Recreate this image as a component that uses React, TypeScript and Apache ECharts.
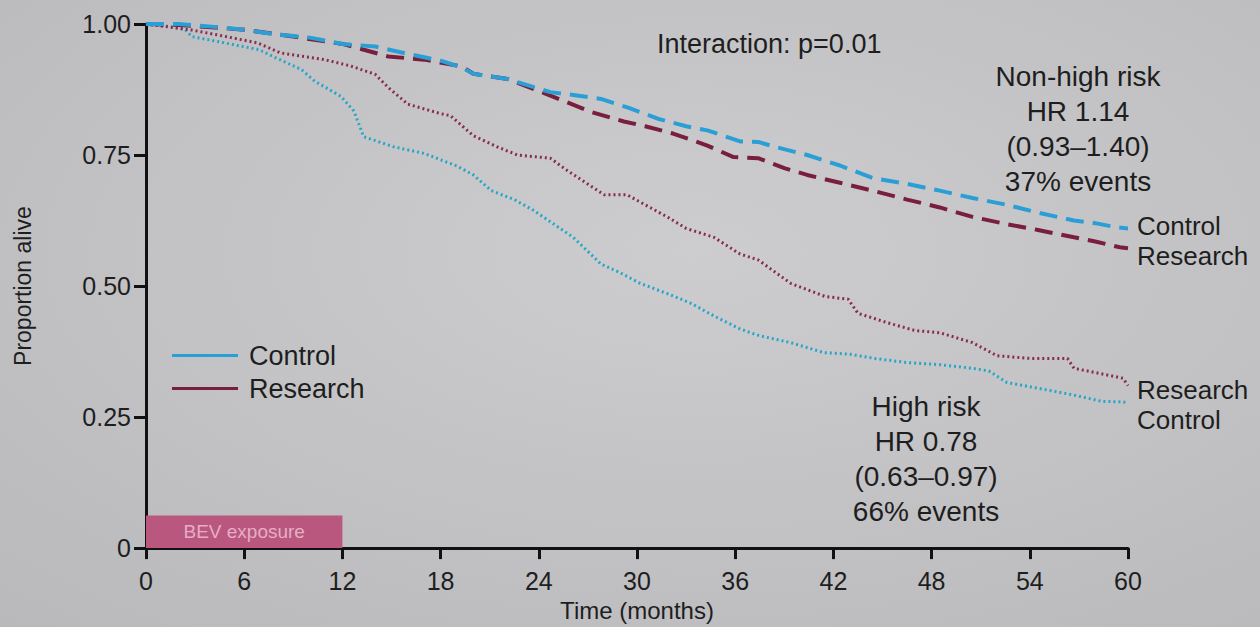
import React, { useEffect, useRef } from "react";
import * as echarts from "echarts";

// Kaplan-Meier curves: [month, proportion alive]
const nonHighControl: [number, number][] = [
  [0, 1.0], [2, 1.0], [4, 0.995], [6, 0.989], [8, 0.98], [10, 0.974], [12, 0.962], [14, 0.957],
  [16, 0.943], [18, 0.93], [19.3, 0.917], [20, 0.905], [22.1, 0.895], [24.7, 0.87], [26, 0.865],
  [27.8, 0.857], [29.5, 0.84], [31.3, 0.819], [33, 0.805], [34.3, 0.797], [36.3, 0.776], [37.4, 0.775],
  [38.5, 0.765], [40.4, 0.75], [42.4, 0.73], [44.4, 0.706], [46.5, 0.695], [48.5, 0.682], [50.5, 0.668],
  [52.6, 0.655], [54.5, 0.64], [56.7, 0.625], [58, 0.62], [59.3, 0.612], [60, 0.61],
];
const nonHighResearch: [number, number][] = [
  [0, 1.0], [2, 0.998], [4, 0.994], [6, 0.989], [9, 0.976], [12, 0.962], [14.8, 0.938], [17, 0.932],
  [19.3, 0.919], [20, 0.905], [22.1, 0.895], [24.9, 0.861], [27.2, 0.832], [29.2, 0.814], [30.5, 0.805],
  [32.2, 0.791], [34.3, 0.768], [35.9, 0.746], [37.4, 0.744], [39, 0.725], [40.4, 0.712], [42.4, 0.697],
  [44.4, 0.682], [46.5, 0.665], [48.5, 0.65], [50.5, 0.632], [52.6, 0.618], [54.5, 0.607], [56.7, 0.593],
  [58, 0.585], [59.5, 0.574], [60, 0.572],
];
const highControl: [number, number][] = [
  [0, 1.0], [1.5, 0.995], [2.4, 0.989], [2.8, 0.976], [4.8, 0.964], [6.9, 0.951], [7.9, 0.936],
  [9.5, 0.913], [10.3, 0.891], [11.9, 0.862], [12.7, 0.834], [13.3, 0.785], [15.1, 0.766], [17, 0.753],
  [19, 0.729], [20, 0.712], [21.1, 0.682], [22.5, 0.665], [23.7, 0.644], [26.1, 0.593], [27.8, 0.542],
  [29, 0.525], [30.2, 0.505], [31.9, 0.485], [33.3, 0.467], [34.7, 0.443], [36.3, 0.418], [37.5, 0.405],
  [39.4, 0.392], [41.4, 0.373], [43, 0.37], [44.5, 0.362], [46.5, 0.354], [48.5, 0.35], [50.5, 0.343],
  [51.5, 0.338], [52.6, 0.316], [54.5, 0.305], [56.7, 0.292], [58.4, 0.28], [59.7, 0.279], [60, 0.277],
];
const highResearch: [number, number][] = [
  [0, 1.0], [2.7, 0.989], [4.4, 0.979], [6.8, 0.964], [8.2, 0.945], [10.9, 0.932], [12.5, 0.92],
  [14, 0.904], [14.8, 0.879], [16, 0.847], [18, 0.829], [18.6, 0.825], [20, 0.787], [21.5, 0.765],
  [22.7, 0.75], [24.7, 0.744], [25.8, 0.719], [28, 0.674], [29.4, 0.674], [30.5, 0.655], [31.9, 0.631],
  [33, 0.61], [34.7, 0.593], [36.3, 0.561], [37.4, 0.55], [39.4, 0.505], [41.5, 0.48], [42.9, 0.475],
  [43.5, 0.448], [45.3, 0.43], [47, 0.415], [48.5, 0.411], [50.5, 0.392], [52, 0.367], [54, 0.362],
  [56.3, 0.362], [56.7, 0.343], [58, 0.335], [59.7, 0.324], [60, 0.31],
];

const legendNames = ["Control", "Research"];
const xTicks = { min: 0, max: 60, step: 6 };
const yTicks = { min: 0, max: 1, step: 0.25 };
const bevExposure = { from: 0, to: 12, label: "BEV exposure" };
const interactionText = "Interaction: p=0.01";
const nonHighText = ["Non-high risk", "HR 1.14", "(0.93–1.40)", "37% events"];
const highText = ["High risk", "HR 0.78", "(0.63–0.97)", "66% events"];

const FONT = "'Liberation Sans', Arial, Helvetica, sans-serif";
const TXT = "#1e1e1e";
const BLUE = "#2a9fd6";
const BLUE_DOT = "#25a6c9";
const MAROON = "#7a1e3e";
const MAROON_DOT = "#8a2c4f";

export default function App() {
  const ref = useRef<HTMLDivElement>(null);
  useEffect(() => {
    if (!ref.current) return;
    const chart = echarts.init(ref.current, null, { renderer: "svg" });
    const endLabel = (text: string, dy: number) => ({
      show: true,
      formatter: text,
      distance: 9,
      offset: [0, dy],
      fontSize: 26,
      fontFamily: FONT,
      color: TXT,
    });
    chart.setOption({
      animation: false,
      backgroundColor: {
        type: "radial",
        x: 0.55,
        y: 0.4,
        r: 0.85,
        colorStops: [
          { offset: 0, color: "#cdcdcf" },
          { offset: 1, color: "#b8b8bb" },
        ],
      },
      grid: { left: 146, right: 132, top: 24, bottom: 72 },
      legend: {
        data: legendNames,
        orient: "vertical",
        left: 172,
        top: 342,
        padding: 0,
        itemGap: 6,
        icon: "rect",
        itemWidth: 66,
        itemHeight: 3,
        textStyle: { fontSize: 27, fontFamily: FONT, color: TXT, padding: [0, 0, 0, 6] },
      },
      xAxis: {
        type: "value",
        min: xTicks.min,
        max: xTicks.max,
        interval: xTicks.step,
        name: "Time (months)",
        nameLocation: "middle",
        nameGap: 40,
        nameTextStyle: { fontSize: 24, fontFamily: FONT, color: TXT },
        axisLine: { lineStyle: { color: "#111", width: 3 } },
        axisTick: { length: 11, lineStyle: { color: "#111", width: 3 } },
        axisLabel: { fontSize: 25, fontFamily: FONT, color: TXT, margin: 20 },
        splitLine: { show: false },
      },
      yAxis: {
        type: "value",
        min: yTicks.min,
        max: yTicks.max,
        interval: yTicks.step,
        name: "Proportion alive",
        nameLocation: "middle",
        nameGap: 112,
        nameTextStyle: { fontSize: 23, fontFamily: FONT, color: TXT },
        axisLine: { show: true, lineStyle: { color: "#111", width: 3 } },
        axisTick: { show: true, length: 12, lineStyle: { color: "#111", width: 3 } },
        axisLabel: {
          fontSize: 25,
          fontFamily: FONT,
          color: TXT,
          margin: 15,
          formatter: (v: number) => (v === 0 ? "0" : v.toFixed(2)),
        },
        splitLine: { show: false },
      },
      series: [
        {
          name: "Control",
          type: "line",
          data: [],
          color: BLUE,
          lineStyle: { width: 3 },
          showSymbol: false,
        },
        {
          name: "Research",
          type: "line",
          data: [],
          color: MAROON,
          lineStyle: { width: 3 },
          showSymbol: false,
        },
        {
          name: "High risk – Control",
          type: "line",
          data: highControl,
          showSymbol: false,
          color: BLUE_DOT,
          lineStyle: { width: 3, type: [2, 3], color: BLUE_DOT },
          endLabel: endLabel("Control", 17),
          markArea: {
            silent: true,
            itemStyle: { color: "#b9577e" },
            label: {
              show: true,
              position: "inside",
              color: "#e6aec5",
              fontSize: 19,
              fontFamily: FONT,
            },
            data: [
              [
                { name: bevExposure.label, coord: [bevExposure.from, 0] },
                { coord: [bevExposure.to, 0.062] },
              ],
            ],
          },
        },
        {
          name: "High risk – Research",
          type: "line",
          data: highResearch,
          showSymbol: false,
          color: MAROON_DOT,
          lineStyle: { width: 3, type: [2, 3], color: MAROON_DOT },
          endLabel: endLabel("Research", 4),
        },
        {
          name: "Non-high risk – Research",
          type: "line",
          data: nonHighResearch,
          showSymbol: false,
          color: MAROON,
          lineStyle: { width: 4, type: [18, 9], color: MAROON },
          endLabel: endLabel("Research", 8),
        },
        {
          name: "Non-high risk – Control",
          type: "line",
          data: nonHighControl,
          showSymbol: false,
          color: BLUE,
          lineStyle: { width: 4, type: [18, 9], color: BLUE },
          endLabel: endLabel("Control", -2),
        },
      ],
      graphic: [
        {
          type: "text",
          left: 657,
          top: 30,
          style: { text: interactionText, fontSize: 27, fontFamily: FONT, fill: TXT },
        },
        {
          type: "text",
          x: 1078,
          y: 59,
          style: {
            text: nonHighText.join("\n"),
            fontSize: 28,
            lineHeight: 35,
            fontFamily: FONT,
            fill: TXT,
            align: "center",
          },
        },
        {
          type: "text",
          x: 926,
          y: 389,
          style: {
            text: highText.join("\n"),
            fontSize: 28,
            lineHeight: 35,
            fontFamily: FONT,
            fill: TXT,
            align: "center",
          },
        },
      ],
    });
    return () => chart.dispose();
  }, []);
  return (
    <div
      ref={ref}
      style={{ position: "absolute", left: 0, top: 0, width: 1260, height: 627 }}
    />
  );
}
